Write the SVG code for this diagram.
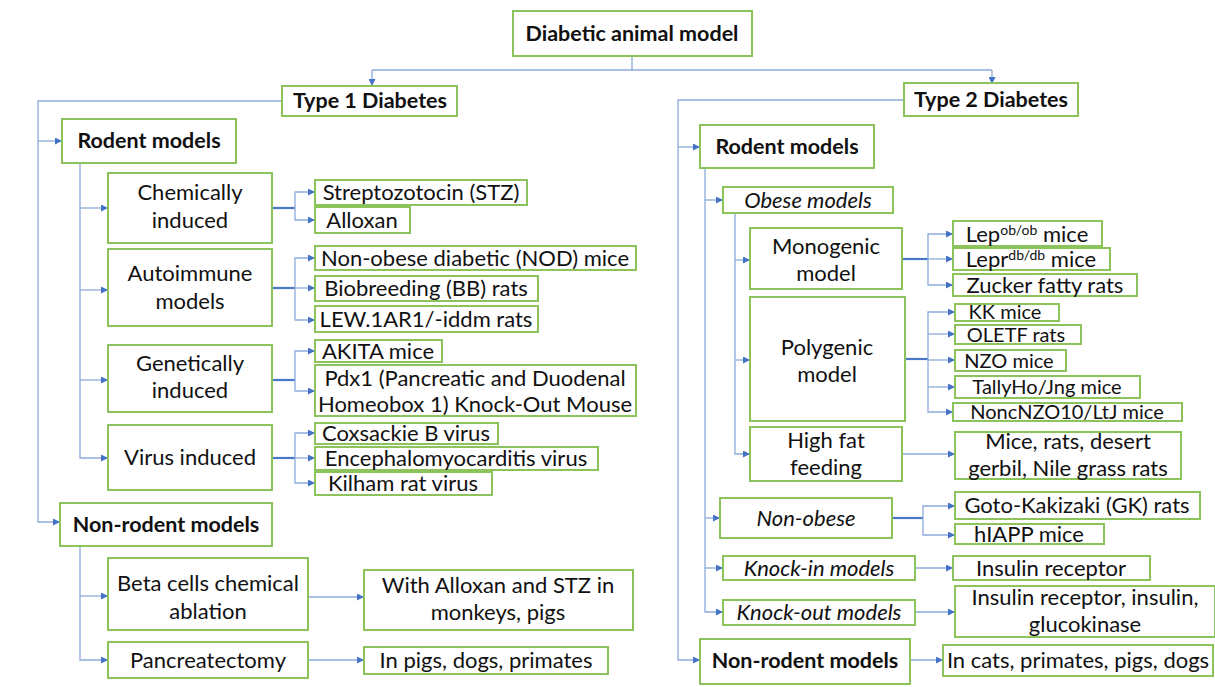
<svg xmlns="http://www.w3.org/2000/svg" width="1215" height="687" viewBox="0 0 1215 687">
<style>
rect{fill:#fff;stroke:#8cc35a;stroke-width:2}
text{font-family:Lato,"Liberation Sans",sans-serif;font-size:22px;fill:#111;text-anchor:middle}
.b{font-weight:bold;font-size:21.5px}
.i{font-style:italic}
.s{font-size:20px}
.ln{fill:none;stroke:#8eaadc;stroke-width:1.3}
.st{fill:none;stroke:#4a78c8;stroke-width:2.2}
.ar{marker-end:url(#a)}
</style>
<defs>
<marker id="a" markerUnits="userSpaceOnUse" markerWidth="7" markerHeight="7" refX="7" refY="3.5" orient="auto"><path d="M0,0 L7,3.5 L0,7 z" fill="#4472c4"/></marker>
</defs>
<g id="connectors">
<path class="ln" d="M632,56 V70 M372,70 H992"/>
<path class="ln ar" d="M372,70 V86"/>
<path class="ln ar" d="M992,70 V84"/>
<path class="ln ar" d="M282,101 H38 V522 H60"/>
<path class="ln ar" d="M38,141 H62"/>
<path class="ln ar" d="M80,163 V458 H108"/>
<path class="ln ar" d="M80,208 H108"/>
<path class="ln ar" d="M80,290 H108"/>
<path class="ln ar" d="M80,380 H108"/>
<path class="st" d="M272,208 H295"/>
<path class="ln ar" d="M295,208 V192 H315"/>
<path class="ln ar" d="M295,208 V220 H315"/>
<path class="st" d="M272,288 H295"/>
<path class="ln ar" d="M295,288 V258 H315"/>
<path class="ln ar" d="M295,288 H315"/>
<path class="ln ar" d="M295,288 V320 H315"/>
<path class="st" d="M272,380 H295"/>
<path class="ln ar" d="M295,380 V351 H315"/>
<path class="ln ar" d="M295,380 V391 H315"/>
<path class="st" d="M272,458 H295"/>
<path class="ln ar" d="M295,458 V433 H315"/>
<path class="ln ar" d="M295,458 H315"/>
<path class="ln ar" d="M295,458 V483 H315"/>
<path class="ln ar" d="M80,546 V660 H108"/>
<path class="ln ar" d="M80,596 H108"/>
<path class="ln ar" d="M308,597 H364"/>
<path class="ln ar" d="M308,660 H364"/>
<path class="ln ar" d="M904,100 H678 V660 H700"/>
<path class="ln ar" d="M678,147 H700"/>
<path class="ln ar" d="M705,168 V612 H723"/>
<path class="ln ar" d="M705,200 H723"/>
<path class="ln ar" d="M705,518 H720"/>
<path class="ln ar" d="M705,568 H723"/>
<path class="ln ar" d="M735,213 V454 H750"/>
<path class="ln ar" d="M735,260 H750"/>
<path class="ln ar" d="M735,360 H750"/>
<path class="st" d="M902,259 H928"/>
<path class="ln ar" d="M928,259 V234 H953"/>
<path class="ln ar" d="M928,259 H953"/>
<path class="ln ar" d="M928,259 V285 H953"/>
<path class="st" d="M905,359 H928"/>
<path class="ln ar" d="M928,359 V312 H955"/>
<path class="ln ar" d="M928,334 H955"/>
<path class="ln ar" d="M928,360 H955"/>
<path class="ln ar" d="M928,359 V412 H953"/>
<path class="ln ar" d="M928,387 H955"/>
<path class="ln ar" d="M902,454 H955"/>
<path class="st" d="M892,518 H923"/>
<path class="ln ar" d="M923,518 V506 H955"/>
<path class="ln ar" d="M923,518 V535 H955"/>
<path class="ln ar" d="M915,568 H953"/>
<path class="ln ar" d="M915,612 H955"/>
<path class="ln ar" d="M910,660 H943"/>
</g>
<g id="root"><rect x="513" y="11" width="239" height="45"/><text class="b" x="632" y="41">Diabetic animal model</text></g>
<g id="t1"><rect x="282" y="86" width="175" height="30"/><text class="b" x="370" y="108">Type 1 Diabetes</text></g>
<g id="t1-rodent"><rect x="62" y="119" width="174" height="44"/><text class="b" x="149" y="148">Rodent models</text></g>
<g id="chem"><rect x="108" y="173" width="164" height="70"/><text x="190" y="200">Chemically</text><text x="190" y="228">induced</text></g>
<g id="stz"><rect x="315" y="180" width="212" height="25"/><text x="421" y="200">Streptozotocin (STZ)</text></g>
<g id="allox"><rect x="315" y="207" width="95" height="26"/><text x="362" y="228">Alloxan</text></g>
<g id="auto"><rect x="108" y="249" width="164" height="77"/><text x="190" y="281">Autoimmune</text><text x="190" y="309">models</text></g>
<g id="nod"><rect x="315" y="246" width="321" height="24"/><text x="475" y="266">Non-obese diabetic (NOD) mice</text></g>
<g id="bb"><rect x="315" y="276" width="223" height="25"/><text x="426" y="296">Biobreeding (BB) rats</text></g>
<g id="lew"><rect x="315" y="306" width="223" height="26"/><text x="426" y="327">LEW.1AR1/-iddm rats</text></g>
<g id="gen"><rect x="108" y="345" width="164" height="67"/><text x="190" y="371">Genetically</text><text x="190" y="398">induced</text></g>
<g id="akita"><rect x="315" y="340" width="127" height="22"/><text x="378" y="359">AKITA mice</text></g>
<g id="pdx1"><rect x="315" y="365" width="321" height="51"/><text x="475" y="386">Pdx1 (Pancreatic and Duodenal</text><text x="475" y="412">Homeobox 1) Knock-Out Mouse</text></g>
<g id="virus"><rect x="108" y="425" width="164" height="65"/><text x="190" y="465">Virus induced</text></g>
<g id="cox"><rect x="315" y="423" width="183" height="21"/><text x="406" y="441">Coxsackie B virus</text></g>
<g id="emc"><rect x="315" y="447" width="283" height="23"/><text x="456" y="466">Encephalomyocarditis virus</text></g>
<g id="kilham"><rect x="315" y="472" width="177" height="23"/><text x="403" y="491">Kilham rat virus</text></g>
<g id="t1-nonrodent"><rect x="60" y="503" width="212" height="43"/><text class="b" x="166" y="532">Non-rodent models</text></g>
<g id="beta"><rect x="108" y="558" width="200" height="72"/><text x="208" y="591">Beta cells chemical</text><text x="208" y="619">ablation</text></g>
<g id="withallox"><rect x="364" y="570" width="269" height="60"/><text x="498" y="593">With Alloxan and STZ in</text><text x="498" y="620">monkeys, pigs</text></g>
<g id="pancr"><rect x="108" y="642" width="200" height="36"/><text x="208" y="668">Pancreatectomy</text></g>
<g id="pigs"><rect x="364" y="647" width="244" height="27"/><text x="486" y="668">In pigs, dogs, primates</text></g>
<g id="t2"><rect x="904" y="83" width="174" height="33"/><text class="b" x="991" y="107">Type 2 Diabetes</text></g>
<g id="t2-rodent"><rect x="700" y="125" width="174" height="43"/><text class="b" x="787" y="154">Rodent models</text></g>
<g id="obese"><rect x="723" y="187" width="170" height="26"/><text class="i" x="808" y="208">Obese models</text></g>
<g id="mono"><rect x="750" y="228" width="152" height="61"/><text x="826" y="254">Monogenic</text><text x="826" y="281">model</text></g>
<g id="lep"><rect x="953" y="221" width="149" height="25"/><text x="1027" y="242">Lep<tspan dy="-7" font-size="14">ob/ob</tspan><tspan dy="7"> mice</tspan></text></g>
<g id="lepr"><rect x="953" y="248" width="157" height="22"/><text x="1031" y="267">Lepr<tspan dy="-7" font-size="14">db/db</tspan><tspan dy="7"> mice</tspan></text></g>
<g id="zucker"><rect x="953" y="274" width="184" height="22"/><text x="1045" y="293">Zucker fatty rats</text></g>
<g id="poly"><rect x="750" y="297" width="155" height="124"/><text x="827" y="355">Polygenic</text><text x="827" y="382">model</text></g>
<g id="kk"><rect x="955" y="304" width="104" height="17"/><text class="s" x="1005" y="319">KK mice</text></g>
<g id="oletf"><rect x="955" y="325" width="126" height="19"/><text class="s" x="1016" y="342">OLETF rats</text></g>
<g id="nzo"><rect x="955" y="350" width="111" height="21"/><text class="s" x="1009" y="368">NZO mice</text></g>
<g id="tally"><rect x="955" y="376" width="185" height="22"/><text class="s" x="1047" y="394">TallyHo/Jng mice</text></g>
<g id="nonc"><rect x="953" y="403" width="229" height="18"/><text class="s" x="1067" y="419">NoncNZO10/LtJ mice</text></g>
<g id="hfat"><rect x="750" y="427" width="152" height="54"/><text x="826" y="448">High fat</text><text x="826" y="475">feeding</text></g>
<g id="mice"><rect x="955" y="432" width="226" height="47"/><text x="1068" y="449">Mice, rats, desert</text><text x="1068" y="476">gerbil, Nile grass rats</text></g>
<g id="nonobese"><rect x="720" y="498" width="172" height="40"/><text class="i" x="806" y="526">Non-obese</text></g>
<g id="gk"><rect x="955" y="492" width="245" height="27"/><text x="1077" y="513">Goto-Kakizaki (GK) rats</text></g>
<g id="hiapp"><rect x="955" y="524" width="149" height="20"/><text x="1029" y="542">hIAPP mice</text></g>
<g id="knockin"><rect x="723" y="556" width="192" height="24"/><text class="i" x="819" y="576">Knock-in models</text></g>
<g id="insrec"><rect x="953" y="556" width="197" height="24"/><text x="1051" y="576">Insulin receptor</text></g>
<g id="knockout"><rect x="723" y="600" width="192" height="25"/><text class="i" x="819" y="620">Knock-out models</text></g>
<g id="insall"><rect x="955" y="586" width="260" height="51"/><text x="1085" y="605">Insulin receptor, insulin,</text><text x="1085" y="632">glucokinase</text></g>
<g id="t2-nonrodent"><rect x="700" y="639" width="210" height="45"/><text class="b" x="805" y="668">Non-rodent models</text></g>
<g id="cats"><rect x="943" y="645" width="270" height="31"/><text x="1078" y="668">In cats, primates, pigs, dogs</text></g>
</svg>
